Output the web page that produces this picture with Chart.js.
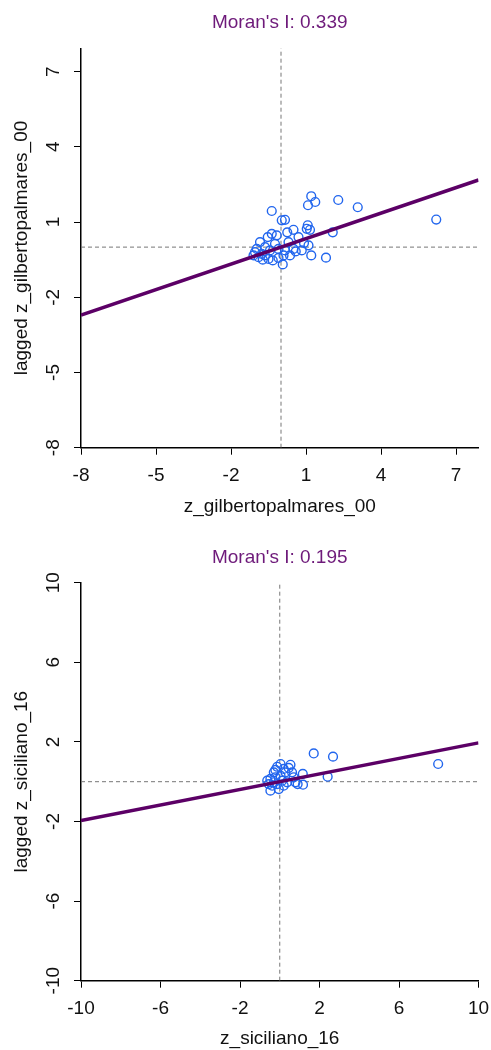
<!DOCTYPE html>
<html>
<head>
<meta charset="utf-8">
<script src="https://cdn.jsdelivr.net/npm/chart.js@4.4.0/dist/chart.umd.min.js"></script>
<style>
  html, body { margin: 0; padding: 0; background: #fff; }
  .plot { position: absolute; left: 0; width: 491px; height: 525px; }
</style>
</head>
<body>
<div class="plot" style="top:0"><canvas id="plotTop" width="491" height="525"></canvas></div>
<div class="plot" style="top:525px"><canvas id="plotBottom" width="491" height="525"></canvas></div>
<script>
// z_gilbertopalmares_00 vs its spatial lag
const gilbertoZ = [-0.37, 1.21, 1.08, 1.37, 2.29, 3.07, 6.21, 2.07, 1.80, 1.21,
    1.07, 1.03, 1.16, 0.50, 0.25, 0.16, 0.03, 0.92, 0.83, 0.59,
    0.36, 0.10, 0.07, -0.33, -0.73, -0.90, -1.04, -0.84, -0.53, -0.37,
    -0.17, -0.64, -0.44, -0.24, -0.10, 0.30, 0.50, 0.70, -0.64, -0.50,
    -0.97, -0.77, -1.10, -0.10, 0.16, 1.10];
const gilbertoLag = [1.44, 2.03, 1.67, 1.80, 1.88, 1.59, 1.10, 0.59, -0.42, -0.33,
    0.87, 0.73, 0.69, 0.69, 0.59, 1.09, 1.07, 0.16, -0.13, -0.17,
    -0.33, -0.33, -0.69, -0.53, -0.50, -0.40, -0.20, 0.20, 0.40, 0.53,
    0.47, 0.00, -0.13, 0.13, -0.07, 0.20, -0.07, 0.40, -0.33, -0.47,
    -0.07, -0.27, -0.33, -0.43, -0.13, 0.07];
const gilbertoTicks = [-8, -5, -2, 1, 4, 7];
const gilbertoXRange = [-8, 7.9];
const gilbertoYRange = [-8, 7.93];
const gilbertoMoran = 0.339;

// z_siciliano_16 vs its spatial lag
const sicilianoZ = [1.71, 2.68, 7.97, 2.41, 1.16, 1.17, 0.90, 0.54, 0.62, 0.20,
    -0.13, -0.30, 0.04, -0.47, -0.63, -0.38, -0.47, -0.05, 0.20, 0.37,
    0.70, 0.79, -0.22, 0.12, 0.29, 0.45, -0.30, -0.13, -0.22, 0.04, -0.55];
const sicilianoLag = [1.42, 1.26, 0.89, 0.25, 0.39, -0.15, -0.12, 0.85, 0.47, 0.64,
    0.75, 0.47, 0.30, 0.14, 0.05, -0.20, -0.45, -0.37, -0.20, -0.03,
    0.22, -0.03, 0.22, 0.05, 0.47, 0.69, -0.03, -0.12, 0.59, 0.89, -0.12];
const sicilianoTicks = [-10, -6, -2, 2, 6, 10];
const sicilianoXRange = [-10, 10];
const sicilianoYRange = [-10, 10];
const sicilianoMoran = 0.195;

const baseFont = { family: "'Liberation Sans', Arial, sans-serif", size: 19 };

function noEdgePadding(s) {
    s.paddingLeft = 0; s.paddingRight = 0; s.paddingTop = 0; s.paddingBottom = 0;
}

function moranPlot(canvasId, zs, lags, ticks, xRange, yRange, moran, varName, lay) {
    const points = zs.map((z, i) => ({ x: z, y: lags[i] }));
    const ctx = document.getElementById(canvasId).getContext('2d');
    return new Chart(ctx, {
        type: 'scatter',
        data: {
            datasets: [{
                // regression line, slope = Moran's I
                type: 'line',
                data: [{ x: xRange[0], y: moran * xRange[0] }, { x: xRange[1], y: moran * xRange[1] }],
                borderColor: '#5c0066',
                borderWidth: 3.5,
                pointRadius: 0,
                fill: false
            }, {
                data: points,
                pointStyle: 'circle',
                pointRadius: 4.4,
                pointBorderWidth: 1.4,
                borderColor: '#2266ee',
                backgroundColor: 'rgba(0,0,0,0)'
            }, {
                type: 'line',
                data: [{ x: 0, y: yRange[0] }, { x: 0, y: yRange[1] }],
                borderColor: '#777',
                borderWidth: 1,
                borderDash: [4, 3],
                pointRadius: 0
            }, {
                type: 'line',
                data: [{ x: xRange[0], y: 0 }, { x: xRange[1], y: 0 }],
                borderColor: '#777',
                borderWidth: 1,
                borderDash: [4, 3],
                pointRadius: 0
            }]
        },
        options: {
            responsive: false,
            animation: false,
            devicePixelRatio: 1,
            layout: { padding: { left: 0, right: 12.5, top: 0, bottom: 0 } },
            plugins: {
                legend: { display: false },
                tooltip: { enabled: false }
            },
            scales: {
                // top axis only carries the plot title, centred on the plot region
                top: {
                    type: 'linear',
                    position: 'top',
                    min: xRange[0],
                    max: xRange[1],
                    afterFit: s => { s.height = lay.plotTop; noEdgePadding(s); },
                    border: { display: false },
                    grid: { display: false },
                    ticks: { display: false },
                    title: {
                        display: true,
                        text: "Moran's I: " + moran.toFixed(3),
                        color: '#6e1a7a',
                        font: baseFont,
                        padding: { top: lay.titleTop, bottom: 0 }
                    }
                },
                x: {
                    type: 'linear',
                    position: 'bottom',
                    min: xRange[0],
                    max: xRange[1],
                    afterBuildTicks: s => { s.ticks = ticks.map(v => ({ value: v })); },
                    afterFit: s => { s.height = lay.xHeight; noEdgePadding(s); },
                    border: { display: true, color: '#000', width: 1.5 },
                    grid: { drawOnChartArea: false, drawTicks: true, tickLength: 7, color: '#000', lineWidth: 1 },
                    ticks: { font: baseFont, color: '#111', padding: 9.5, autoSkip: false, maxRotation: 0 },
                    title: {
                        display: true, text: varName, color: '#111', font: baseFont,
                        padding: { top: 0, bottom: lay.xTitleBottom }
                    }
                },
                y: {
                    type: 'linear',
                    min: yRange[0],
                    max: yRange[1],
                    afterBuildTicks: s => { s.ticks = ticks.map(v => ({ value: v })); },
                    afterFit: s => { s.width = 81; noEdgePadding(s); },
                    border: { display: true, color: '#000', width: 1.5 },
                    grid: { drawOnChartArea: false, drawTicks: true, tickLength: 7, color: '#000', lineWidth: 1 },
                    ticks: {
                        font: baseFont, color: '#111', autoSkip: false,
                        minRotation: 90, maxRotation: 90, crossAlign: 'center',
                        padding: lay.yTickPad
                    },
                    title: {
                        display: true, text: 'lagged ' + varName, color: '#111', font: baseFont,
                        padding: { top: 10, bottom: 0 }
                    }
                }
            }
        }
    });
}

moranPlot('plotTop', gilbertoZ, gilbertoLag, gilbertoTicks, gilbertoXRange, gilbertoYRange,
    gilbertoMoran, 'z_gilbertopalmares_00',
    { plotTop: 48.3, titleTop: 11.8, xHeight: 77.3, xTitleBottom: 7.2, yTickPad: 11.5 });

moranPlot('plotBottom', sicilianoZ, sicilianoLag, sicilianoTicks, sicilianoXRange, sicilianoYRange,
    sicilianoMoran, 'z_siciliano_16',
    { plotTop: 57.7, titleTop: 21.4, xHeight: 69.3, xTitleBottom: 0, yTickPad: 6.5 });
</script>
</body>
</html>
